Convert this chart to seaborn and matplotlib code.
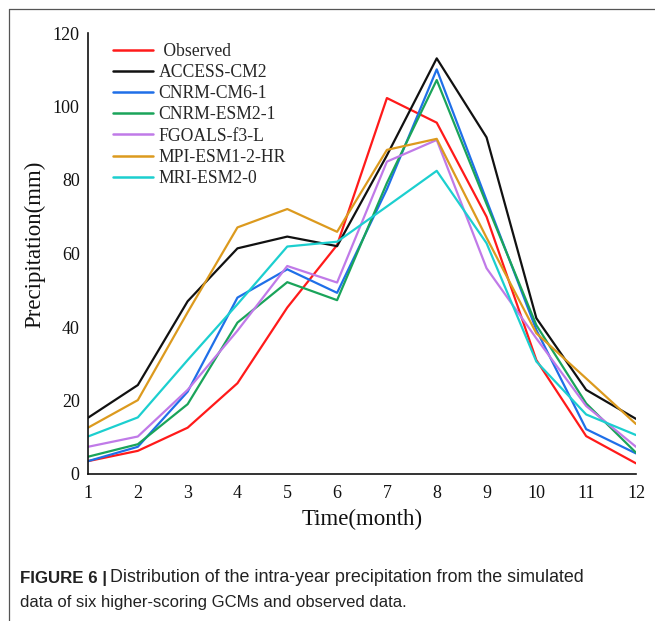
import numpy as np
import pandas as pd
import matplotlib
matplotlib.use("Agg")
import matplotlib.pyplot as plt
import seaborn as sns
from matplotlib.lines import Line2D

months = list(range(1, 13))
observed = [3.5, 6.3, 12.6, 24.7, 45.3, 62.3, 102.3, 95.6, 70.0, 31.0, 10.3, 2.9]
access_cm2 = [15.3, 24.2, 47.0, 61.4, 64.6, 62.0, 86.7, 113.1, 91.6, 42.4, 22.9, 15.0]
cnrm_cm6_1 = [3.5, 7.4, 22.4, 48.0, 55.7, 49.3, 77.5, 110.1, 74.5, 39.2, 12.2, 5.6]
cnrm_esm2_1 = [4.7, 8.1, 19.0, 41.2, 52.2, 47.3, 79.2, 107.2, 73.5, 40.5, 19.2, 5.8]
fgoals_f3_l = [7.4, 10.2, 22.9, 39.0, 56.6, 52.1, 85.0, 90.9, 56.0, 36.9, 18.5, 7.4]
mpi_esm1_2_hr = [12.6, 20.1, 44.0, 67.1, 72.1, 65.9, 88.2, 91.2, 64.3, 38.3, 26.0, 13.6]
mri_esm2_0 = [10.2, 15.4, 31.0, 46.2, 61.9, 63.2, 72.8, 82.5, 62.8, 30.6, 16.2, 10.6]

series_names = ["Observed", "ACCESS-CM2", "CNRM-CM6-1", "CNRM-ESM2-1",
                "FGOALS-f3-L", "MPI-ESM1-2-HR", "MRI-ESM2-0"]
series_values = [observed, access_cm2, cnrm_cm6_1, cnrm_esm2_1,
                 fgoals_f3_l, mpi_esm1_2_hr, mri_esm2_0]
colors = ["#ff1a1a", "#111111", "#1f6fe8", "#1aa45a", "#c07ae8", "#dc9a1e", "#1ccfcf"]

caption_bold = "FIGURE 6 |"
caption_line1 = "Distribution of the intra-year precipitation from the simulated"
caption_line2 = "data of six higher-scoring GCMs and observed data."

rows = []
for name, vals in zip(series_names, series_values):
    for m, v in zip(months, vals):
        rows.append({"Month": m, "Precipitation": v, "Series": name})
df = pd.DataFrame(rows)

sns.set_style("white")
plt.rcParams["font.family"] = ["Liberation Serif", "DejaVu Serif"]

fig = plt.figure(figsize=(6.55, 6.21), dpi=100)
ax = fig.add_axes([88 / 655, (621 - 474) / 621, 548 / 655, 441 / 621])

sns.lineplot(data=df, x="Month", y="Precipitation", hue="Series",
             hue_order=series_names, palette=dict(zip(series_names, colors)),
             linewidth=1.6, ax=ax, legend=False)

ax.set_xlim(1, 12)
ax.set_ylim(0, 120)
ax.set_xticks(months)
ax.set_yticks([0, 20, 40, 60, 80, 100, 120])
for s in ["top", "right"]:
    ax.spines[s].set_visible(False)
for s in ["left", "bottom"]:
    ax.spines[s].set_color("#111111")
    ax.spines[s].set_linewidth(1.2)
ax.tick_params(direction="in", length=6, width=1.2, colors="#111111",
               labelsize=13, pad=6)
ax.tick_params(axis="x", pad=8)
ax.set_xlabel("Time(month)", fontsize=16.5, color="#111111", labelpad=5)
ax.set_ylabel("Precipitation(mm)", fontsize=16.5, color="#111111")
ax.yaxis.set_label_coords(-0.078, 0.52)

handles = [Line2D([0], [0], color=c, lw=1.8) for c in colors]
labels = [" Observed"] + series_names[1:]
ax.legend(handles, labels, loc="upper left", bbox_to_anchor=(0.045, 0.978),
          frameon=False, fontsize=12.7, handlelength=2.3, handletextpad=0.3,
          labelspacing=0.24, borderpad=0, borderaxespad=0)

# figure frame lines (left and top)
fig.add_artist(Line2D([9 / 655, 9 / 655], [0, 1 - 9 / 621], transform=fig.transFigure,
                      color="#555555", lw=0.9))
fig.add_artist(Line2D([9 / 655, 1], [1 - 9 / 621, 1 - 9 / 621], transform=fig.transFigure,
                      color="#555555", lw=0.9))

# caption
cap_font = ["Liberation Sans", "DejaVu Sans"]
W, H = fig.bbox.width, fig.bbox.height
y1 = 1 - 578 / 621
t1 = fig.text(20 / 655, y1, caption_bold, fontsize=12.2, fontweight="bold",
              family=cap_font, va="center", ha="left", color="#222222")
fig.canvas.draw()
r = fig.canvas.get_renderer()
bb = t1.get_window_extent(renderer=r)
fig.text((bb.x1 + 3) / W, y1, caption_line1, fontsize=12.9, family=cap_font,
         va="center", ha="left", color="#222222")
fig.text(20 / 655, 1 - 603 / 621, caption_line2,
         fontsize=12.0, family=cap_font, va="center", ha="left", color="#222222")

fig.savefig("out.png", dpi=100)
